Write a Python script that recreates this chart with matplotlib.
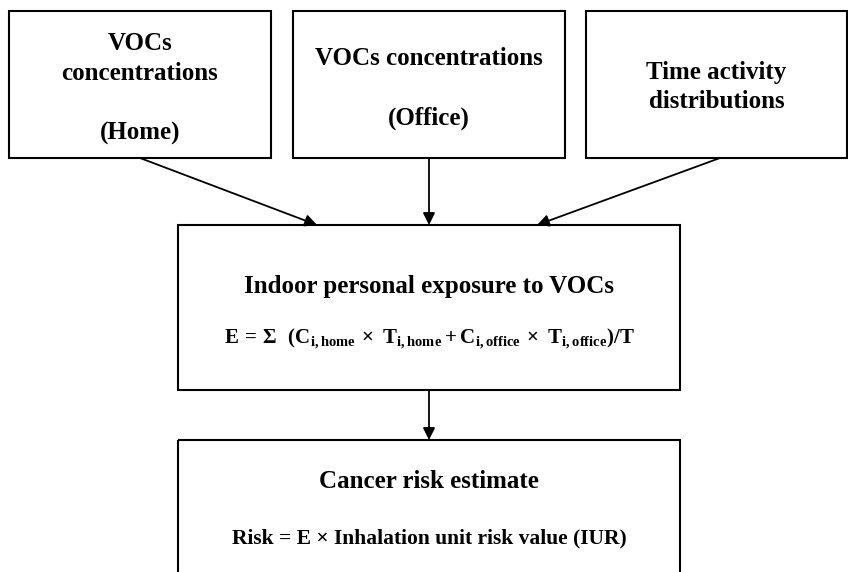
import matplotlib
matplotlib.use('Agg')
import matplotlib.pyplot as plt
from matplotlib.patches import Rectangle

plt.rcParams['font.family'] = ['Liberation Serif', 'DejaVu Serif']
plt.rcParams['font.weight'] = 'bold'
plt.rcParams['mathtext.fontset'] = 'custom'
plt.rcParams['mathtext.rm'] = 'Liberation Serif:bold'
plt.rcParams['mathtext.it'] = 'Liberation Serif:bold'
plt.rcParams['mathtext.bf'] = 'Liberation Serif:bold'

# text of each box in the flow chart, one entry per line
input_lines = [['VOCs', 'concentrations', '(Home)'],
               ['VOCs concentrations', '(Office)'],
               ['Time activity', 'distributions']]
exposure_title = 'Indoor personal exposure to VOCs'
exposure_formula = (r'$\mathrm{E\,=\,\Sigma\ \ (C_{i,home}\,\times\ T_{i,home}+'
                    r'C_{i,office}\,\times\ T_{i,office})/T}$')
risk_title = 'Cancer risk estimate'
risk_formula = 'Risk = E \u00d7 Inhalation unit risk value (IUR)'

# layout in pixels (x0, y0, x1, y1), y grows downwards
input_boxes = [(9, 11, 271, 158), (293, 11, 565, 158), (586, 11, 847, 158)]
input_baselines = [[50, 80, 140], [65, 125], [79, 108]]
exposure_box = (178, 225, 680, 390)
risk_box = (178, 440, 680, 580)
arrow_starts = [(140, 158), (429, 158), (720, 158)]
arrow_ends = [(317, 225), (429, 225), (537, 225)]

fig = plt.figure(figsize=(8.48, 5.72), dpi=100)
ax = fig.add_axes([0, 0, 1, 1])
ax.set_xlim(0, 848)
ax.set_ylim(572, 0)
ax.axis('off')


def draw_box(b):
    ax.add_patch(Rectangle((b[0], b[1]), b[2] - b[0], b[3] - b[1],
                           fill=False, edgecolor='black', lw=1.5))


def arrow(start, end):
    ax.annotate('', xy=end, xytext=start,
                arrowprops=dict(arrowstyle='-|>', color='black', lw=1.3,
                                mutation_scale=18, shrinkA=0, shrinkB=0))


for b, lines, ys in zip(input_boxes, input_lines, input_baselines):
    draw_box(b)
    cx = (b[0] + b[2]) / 2
    for line, y in zip(lines, ys):
        ax.text(cx, y, line, ha='center', va='baseline', fontsize=18)

draw_box(exposure_box)
ax.text(429, 293, exposure_title, ha='center', va='baseline', fontsize=18)
ax.text(429, 344, exposure_formula, ha='center', va='baseline', fontsize=15)

draw_box(risk_box)
ax.text(429, 488, risk_title, ha='center', va='baseline', fontsize=18)
ax.text(429, 543, risk_formula, ha='center', va='baseline', fontsize=15.5)

for s, e in zip(arrow_starts, arrow_ends):
    arrow(s, e)
arrow((429, 390), (429, 440))

fig.savefig('out.png', dpi=100)
